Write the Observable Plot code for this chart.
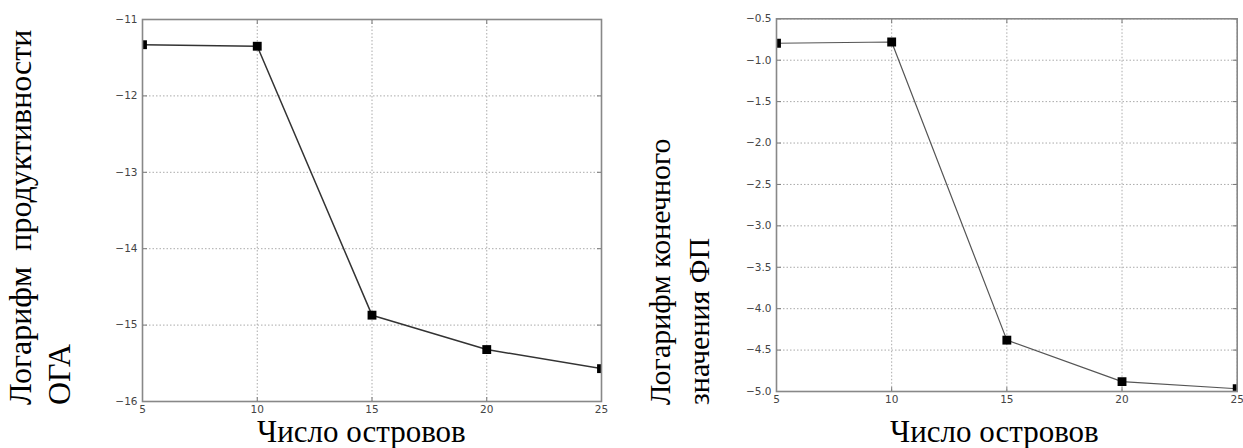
<!DOCTYPE html>
<html><head><meta charset="utf-8">
<script src="https://cdn.jsdelivr.net/npm/d3@7"></script>
<script src="https://cdn.jsdelivr.net/npm/@observablehq/plot@0.6"></script>
<style>
html,body{margin:0;padding:0;background:#fff;}
#wrap{position:relative;width:1243px;height:448px;overflow:hidden;background:#fff;}
.panel{position:absolute;top:0;}
.ylab{position:absolute;transform-origin:0 0;transform:rotate(-90deg);font-family:"Liberation Serif","Times New Roman",serif;font-size:30px;line-height:39px;white-space:pre;color:#000;}
.xlab{position:absolute;font-family:"Liberation Serif","Times New Roman",serif;font-size:31px;line-height:31px;white-space:pre;color:#000;}
</style></head><body><div id="wrap"></div>
<script>
const islands = [5, 10, 15, 20, 25];
const logProductivity = [-11.33, -11.35, -14.87, -15.32, -15.57];
const logFinalFP = [-0.795, -0.78, -4.38, -4.88, -4.967];
const xTicks = [5, 10, 15, 20, 25];
const yTicksLeft = [-16, -15, -14, -13, -12, -11];
const yTicksRight = [-5, -4.5, -4, -3.5, -3, -2.5, -2, -1.5, -1, -0.5];
const xLabel = "Число островов";
const yLabelLeft = ["Логарифм  продуктивности", "ОГА"];
const yLabelRight = ["Логарифм конечного", "значения ФП"];

const tickShape = {draw(context, l) { context.moveTo(0, 0); context.lineTo(0, -l); }};

function panel(o) {
  const data = islands.map((x, i) => ({x, y: o.values[i]}));
  const [y0, y1] = o.yDomain;
  const tickStyle = {length: 4, shape: tickShape, anchor: "start", stroke: "#777", strokeWidth: 1};
  return Plot.plot({
    width: o.width, height: 448,
    marginLeft: o.mL, marginRight: o.mR, marginTop: o.mT, marginBottom: o.mB,
    x: {domain: [5, 25], label: null},
    y: {domain: o.yDomain, label: null},
    style: {fontFamily: "'DejaVu Sans', sans-serif", fontSize: "10.5px", color: "#444", background: "transparent", overflow: "visible"},
    marks: [
      Plot.gridX(xTicks, {stroke: "#aaa", strokeOpacity: 1, strokeDasharray: "1.5,2"}),
      Plot.gridY(o.yTicks, {stroke: "#aaa", strokeOpacity: 1, strokeDasharray: "1.5,2"}),
      Plot.vector(o.yTicks, {x: () => 5, y: d => d, rotate: 90, ...tickStyle}),
      Plot.vector(o.yTicks, {x: () => 25, y: d => d, rotate: -90, ...tickStyle}),
      Plot.vector(xTicks, {x: d => d, y: () => y0, rotate: 0, ...tickStyle}),
      Plot.vector(xTicks, {x: d => d, y: () => y1, rotate: 180, ...tickStyle}),
      Plot.axisX(xTicks, {tickSize: 0, tickPadding: 4, label: null, tickFormat: d3.format("d")}),
      Plot.axisY(o.yTicks, {tickSize: 0, tickPadding: 5, label: null, tickFormat: o.fmt}),
      Plot.line(data, {x: "x", y: "y", stroke: o.lineColor, strokeWidth: o.lineW, clip: true}),
      Plot.dot(data, {x: "x", y: "y", symbol: "square", r: 5, fill: "#000", stroke: "none", clip: true}),
      Plot.frame({stroke: "#888", strokeWidth: 1.6})
    ]
  });
}

const wrap = document.getElementById("wrap");
const left = panel({values: logProductivity, yDomain: [-16, -11], yTicks: yTicksLeft, fmt: d3.format("d"),
  width: 620, mL: 142, mR: 19, mT: 19, mB: 47, lineColor: "#333", lineW: 1.5});
left.classList.add("panel"); left.style.left = "0px";
wrap.appendChild(left);
const right = panel({values: logFinalFP, yDomain: [-5, -0.5], yTicks: yTicksRight, fmt: d3.format(".1f"),
  width: 623, mL: 156, mR: 6.3, mT: 18.3, mB: 57, lineColor: "#555", lineW: 1.2});
right.classList.add("panel"); right.style.left = "620px";
wrap.appendChild(right);

function addYLabel(lines, x, y, size) {
  const d = document.createElement("div");
  d.className = "ylab";
  d.textContent = lines.join("\n");
  d.style.left = x + "px"; d.style.top = y + "px";
  d.style.fontSize = size + "px";
  wrap.appendChild(d);
}
function addXLabel(text, x, top) {
  const d = document.createElement("div");
  d.className = "xlab";
  d.textContent = text;
  d.style.left = x + "px"; d.style.top = top + "px";
  wrap.appendChild(d);
}
addYLabel(yLabelLeft, 1, 405, 32);
addYLabel(yLabelRight, 640, 405, 30);
addXLabel(xLabel, 257, 416);
addXLabel(xLabel, 890, 416);
</script></body></html>
